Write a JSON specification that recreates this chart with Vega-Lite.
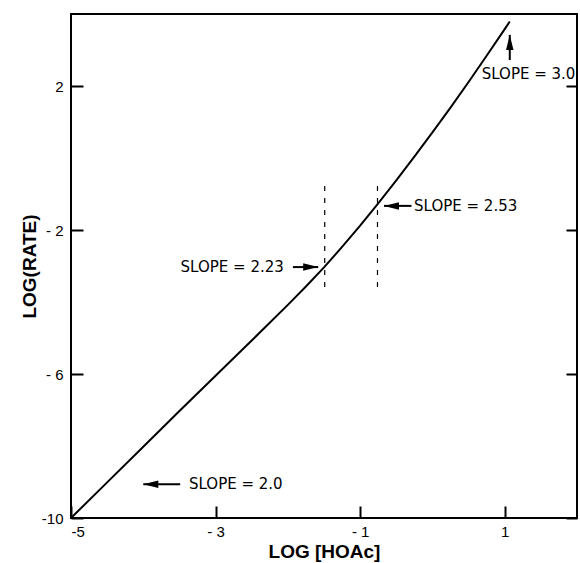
{
  "$schema": "https://vega.github.io/schema/vega-lite/v6.json",
  "width": 506,
  "height": 504,
  "autosize": "none",
  "padding": {"left": 71, "top": 14, "right": 3, "bottom": 45},
  "background": "white",
  "config": {
    "view": {"stroke": "black", "strokeWidth": 2},
    "axis": {
      "grid": false, "domain": false, "ticks": true, "tickColor": "black", "tickWidth": 2,
      "labelColor": "black", "labelFont": "Liberation Sans", "labelFontSize": 15,
      "titleFont": "Liberation Sans", "titleFontSize": 19, "titleFontWeight": "bold", "titleColor": "black"
    }
  },
  "datasets": {
    "curve": [
      {"x": -5, "y": -10}, {"x": -4.5, "y": -9.01}, {"x": -4, "y": -8.02}, {"x": -3.5, "y": -7.03},
      {"x": -3, "y": -6.05}, {"x": -2.5, "y": -5.07}, {"x": -2, "y": -4.08}, {"x": -1.75, "y": -3.57},
      {"x": -1.5, "y": -3.04}, {"x": -1.25, "y": -2.47}, {"x": -1, "y": -1.88}, {"x": -0.75, "y": -1.26},
      {"x": -0.5, "y": -0.62}, {"x": -0.25, "y": 0.04}, {"x": 0, "y": 0.71}, {"x": 0.25, "y": 1.4},
      {"x": 0.5, "y": 2.11}, {"x": 0.75, "y": 2.84}, {"x": 1, "y": 3.58}, {"x": 1.07, "y": 3.79}
    ],
    "dashes": [
      {"x": -1.49, "y": -3.58, "y2": -0.67},
      {"x": -0.76, "y": -3.58, "y2": -0.67}
    ],
    "arrows": [
      {"slope": "2.0", "dir": "left", "tailx": -3.49, "taily": -9.06, "tipx": -4.0, "tipy": -9.06},
      {"slope": "2.23", "dir": "right", "tailx": -1.93, "taily": -3.03, "tipx": -1.58, "tipy": -3.03},
      {"slope": "2.53", "dir": "left", "tailx": -0.29, "taily": -1.33, "tipx": -0.67, "tipy": -1.33},
      {"slope": "3.0", "dir": "up", "tailx": 1.07, "taily": 2.72, "tipx": 1.07, "tipy": 3.42}
    ],
    "labels": [
      {"text": "SLOPE = 2.0", "x": -2.72, "y": -9.06},
      {"text": "SLOPE = 2.23", "x": -2.77, "y": -3.03},
      {"text": "SLOPE = 2.53", "x": 0.46, "y": -1.33},
      {"text": "SLOPE = 3.0", "x": 1.33, "y": 2.33}
    ]
  },
  "layer": [
    {
      "data": {"name": "curve"},
      "mark": {"type": "line", "color": "black", "strokeWidth": 2},
      "encoding": {
        "x": {"field": "x", "type": "quantitative",
          "scale": {"domain": [-5, 2], "nice": false, "zero": false},
          "axis": {"orient": "bottom", "title": "LOG [HOAc]", "values": [-5, -3, -1, 1], "tickSize": -12, "labelPadding": 18, "titlePadding": 3,
            "labelExpr": "datum.value == -5 ? '-5' : datum.value < 0 ? '- ' + abs(datum.value) : datum.label"}},
        "y": {"field": "y", "type": "quantitative",
          "scale": {"domain": [-10, 4], "nice": false, "zero": false},
          "axis": {"orient": "left", "title": "LOG(RATE)", "values": [-10, -6, -2, 2], "tickSize": -12, "labelPadding": 20, "titlePadding": 2,
            "labelExpr": "datum.value == -10 ? '-10' : datum.value < 0 ? '- ' + abs(datum.value) : datum.label"}}
      }
    },
    {
      "data": {"name": "dashes"},
      "mark": {"type": "rule", "color": "black", "strokeWidth": 1.2, "strokeDash": [5, 7]},
      "encoding": {
        "x": {"field": "x", "type": "quantitative", "axis": null},
        "y": {"field": "y", "type": "quantitative",
          "axis": {"orient": "right", "title": null, "labels": false, "values": [-10, -6, -2, 2], "tickSize": -11}},
        "y2": {"field": "y2"}
      }
    },
    {
      "data": {"name": "arrows"},
      "mark": {"type": "rule", "color": "black", "strokeWidth": 2},
      "encoding": {
        "x": {"field": "tailx", "type": "quantitative", "axis": null},
        "y": {"field": "taily", "type": "quantitative", "axis": null},
        "x2": {"field": "tipx"},
        "y2": {"field": "tipy"}
      }
    },
    {
      "data": {"name": "arrows"},
      "transform": [{"filter": "datum.dir == 'left'"}],
      "mark": {"type": "point", "filled": true, "color": "black", "opacity": 1, "size": 225, "shape": "M0,0L2,-0.5L2,0.5Z"},
      "encoding": {
        "x": {"field": "tipx", "type": "quantitative", "axis": null},
        "y": {"field": "tipy", "type": "quantitative", "axis": null}
      }
    },
    {
      "data": {"name": "arrows"},
      "transform": [{"filter": "datum.dir == 'right'"}],
      "mark": {"type": "point", "filled": true, "color": "black", "opacity": 1, "size": 225, "shape": "M0,0L-2,-0.5L-2,0.5Z"},
      "encoding": {
        "x": {"field": "tipx", "type": "quantitative", "axis": null},
        "y": {"field": "tipy", "type": "quantitative", "axis": null}
      }
    },
    {
      "data": {"name": "arrows"},
      "transform": [{"filter": "datum.dir == 'up'"}],
      "mark": {"type": "point", "filled": true, "color": "black", "opacity": 1, "size": 225, "shape": "M0,0L-0.5,2L0.5,2Z"},
      "encoding": {
        "x": {"field": "tipx", "type": "quantitative", "axis": null},
        "y": {"field": "tipy", "type": "quantitative", "axis": null}
      }
    },
    {
      "data": {"name": "labels"},
      "mark": {"type": "text", "font": "DejaVu Sans", "fontSize": 15, "color": "black", "align": "center", "baseline": "middle"},
      "encoding": {
        "x": {"field": "x", "type": "quantitative", "axis": null},
        "y": {"field": "y", "type": "quantitative", "axis": null},
        "text": {"field": "text"}
      }
    }
  ],
  "resolve": {"axis": {"x": "independent", "y": "independent"}}
}
